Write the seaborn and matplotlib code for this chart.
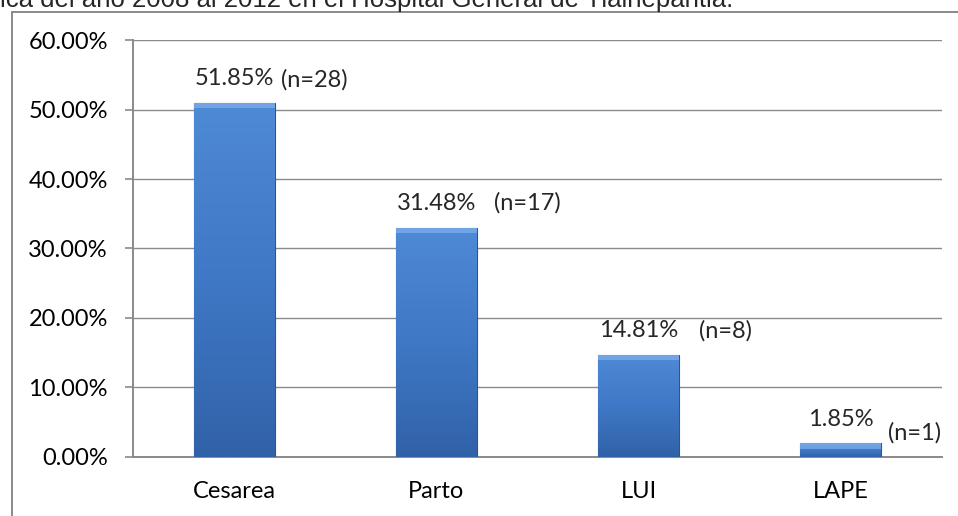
import matplotlib.pyplot as plt
import numpy as np
import seaborn as sns
from matplotlib.colors import LinearSegmentedColormap
from matplotlib.patches import Rectangle
from matplotlib.ticker import FuncFormatter, FixedLocator

sns.set_style("white")
plt.rcParams['font.family'] = ['Lato', 'DejaVu Sans']

# data
categories = ['Cesarea', 'Parto', 'LUI', 'LAPE']
bar_values = [0.51, 0.33, 0.147, 0.019]
pct_labels = ['51.85%', '31.48%', '14.81%', '1.85%']
n_labels = ['(n=28)', '(n=17)', '(n=8)', '(n=1)']
title = 'ica del año 2008 al 2012 en el Hospital General de Tlalnepantla.'

# where the (n=..) notes sit, pixels from the top centre of each bar
n_offsets = [(80, 23), (91, 25), (87, 24), (74, 11)]

GRAY = '#8a8a8a'
FS = 17

fig = plt.figure(figsize=(9.58, 5.16), dpi=100)
ax = fig.add_axes([133 / 958, 1 - 456.5 / 516, (942 - 133) / 958, (456.5 - 40.3) / 516])

sns.barplot(x=categories, y=bar_values, color='#3f76c4', width=0.4, ax=ax,
            edgecolor='#2c5590', linewidth=0.8, zorder=3)

# vertical gradient on each bar (lighter at top), clipped to the bar shape
cmap = LinearSegmentedColormap.from_list('bar', ['#4f8ad6', '#3f78c6', '#3162a8'])
grad = np.linspace(0, 1, 256).reshape(-1, 1)
for p in ax.patches:
	x0, y0 = p.get_x(), p.get_y()
	w, h = p.get_width(), p.get_height()
	im = ax.imshow(grad, cmap=cmap, extent=[x0, x0 + w, y0, y0 + h], aspect='auto',
	               origin='upper', zorder=3.5)
	im.set_clip_path(p)
	# soft bevel along the top
	bh = min(0.008, h * 0.4)
	ax.add_patch(Rectangle((x0, y0 + h - bh), w, bh, facecolor='#8dbcf2',
	                       edgecolor='none', alpha=0.55, zorder=3.6))

ax.set_xlim(-0.5, len(categories) - 0.5)
ax.set_ylim(0, 0.6)
ax.set_yticks(np.arange(0, 0.61, 0.1))
ax.yaxis.set_major_formatter(FuncFormatter(lambda v, _: f'{v * 100:.2f}%'))
ax.yaxis.grid(True, color=GRAY, linewidth=1.0, zorder=0)
ax.set_axisbelow(True)

# tick marks between categories, labels centred
ax.xaxis.set_minor_locator(FixedLocator(np.arange(-0.5, len(categories), 1.0)))
ax.tick_params(axis='x', which='major', length=0, pad=18, labelsize=FS, colors='black')
ax.tick_params(axis='x', which='minor', length=6, width=1.2, color=GRAY, direction='out')
ax.tick_params(axis='y', which='major', length=6, width=1.2, color=GRAY, pad=12,
               labelsize=FS, left=True, labelcolor='black')
ax.set_xlabel('')
ax.set_ylabel('')

for s in ['top', 'right']:
	ax.spines[s].set_visible(False)
for s in ['left', 'bottom']:
	ax.spines[s].set_color(GRAY)
	ax.spines[s].set_linewidth(1.4)

for i, (v, pl, nl) in enumerate(zip(bar_values, pct_labels, n_labels)):
	ax.annotate(pl, (i, v), xytext=(0, 24), textcoords='offset pixels',
	            ha='center', va='center', fontsize=FS)
	dx, dy = n_offsets[i]
	ax.annotate(nl, (i, v), xytext=(dx, dy), textcoords='offset pixels',
	            ha='center', va='center', fontsize=FS)

# outer chart frame, running off the right and bottom edges
fig.add_artist(Rectangle((11.5 / 958, -0.1), 1.1, 1 - 11.5 / 516 + 0.1, transform=fig.transFigure,
                         fill=False, edgecolor=GRAY, linewidth=1.4))

# the chart's title is cut by the top edge of the picture
fig.text(0.0, 1 - 7 / 516, title, va='baseline', ha='left', fontsize=18.5,
         family=['Liberation Sans', 'DejaVu Sans'])

fig.savefig('out.png', dpi=100)
